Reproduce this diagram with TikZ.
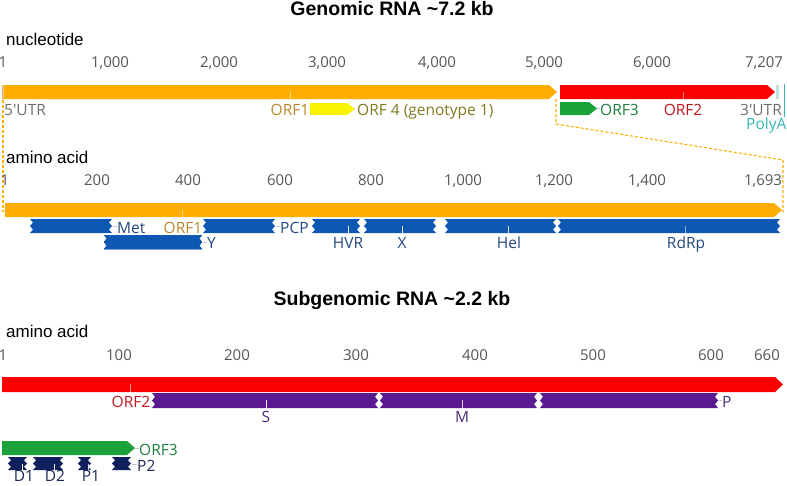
\documentclass[tikz,border=0pt]{standalone}
\usepackage{fontspec}
\setmainfont{Open Sans}[Ligatures=TeXOff]
\newfontfamily\headfont{Liberation Sans}
\usetikzlibrary{positioning}
\definecolor{AOrange}{HTML}{FFAE00}
\definecolor{ARed}{HTML}{FC0000}
\definecolor{AYellow}{HTML}{F8F400}
\definecolor{AGreen}{HTML}{1BA23B}
\definecolor{ABlue}{HTML}{0E58B4}
\definecolor{APurple}{HTML}{5A1A90}
\definecolor{ANavy}{HTML}{10205C}
\definecolor{TickGray}{HTML}{555555}
\definecolor{UtrGray}{HTML}{6E6E6E}
\definecolor{OrfOne}{HTML}{B8862B}
\definecolor{OrfFour}{HTML}{7E7A1E}
\definecolor{OrfThree}{HTML}{1E7E40}
\definecolor{OrfTwo}{HTML}{C0161E}
\definecolor{DomBlue}{HTML}{24487E}
\definecolor{DomPurple}{HTML}{4B2B7F}
\definecolor{DomNavy}{HTML}{1B2A5A}
\definecolor{PolyTeal}{HTML}{37B6B6}
\newcommand\ticksize{\fontsize{15}{18}\selectfont}
\newcommand\lblsize{\fontsize{15.5}{18}\selectfont}
% ORF arrow: colour, x1, x2, top, bottom
\newcommand\orfbar[5]{%
  \fill[#1] (#2,#4) -- ({#3-8},#4) -- (#3,{(#4+#5)/2}) -- ({#3-8},#5) -- (#2,#5) -- cycle;}
% Domain with torn ends: colour, x1, x2, top, bottom
\newcommand\dombar[5]{%
  \fill[#1] (#2,#4) -- (#3,#4) -- ({#3-3},{#4+(#5-#4)/4}) -- (#3,{(#4+#5)/2})
    -- ({#3-3},{#4+3*(#5-#4)/4}) -- (#3,#5) -- (#2,#5) -- ({#2+3},{#4+3*(#5-#4)/4})
    -- (#2,{(#4+#5)/2}) -- ({#2+3},{#4+(#5-#4)/4}) -- cycle;}
\tikzset{
  % Section title
  title/.style={font=\headfont\bfseries\fontsize{19.5}{22}\selectfont, anchor=base, inner sep=0pt},
  % Axis name
  axname/.style={font=\headfont\fontsize{17}{20}\selectfont, anchor=base west, inner sep=0pt},
  % Scale numbers
  tick/.style={font=\ticksize, text=TickGray, anchor=base, inner sep=0pt},
  % Feature label
  lab/.style={font=\lblsize, text=#1, anchor=base, inner sep=0pt},
  labw/.style={lab=#1, anchor=base west},
  % Light mark inside a bar
  barmark/.style={draw=white, opacity=0.55, line width=0.8pt},
  % Leader between feature and label
  lead/.style={draw=gray!45, line width=0.7pt},
  % Zoom outline
  zoomline/.style={draw=AOrange, dashed, dash pattern=on 3pt off 2pt, line width=1.1pt}
}
\begin{document}
\begin{tikzpicture}[x=1pt,y=-1pt]
  \useasboundingbox (0,0) rectangle (787,485);

  % ---------- Genomic RNA ----------
  \node[title] (gtitle) at (392,15) {Genomic RNA \textasciitilde7.2 kb};
  \node[axname] (ntname) at (6,45) {nucleotide};
  \foreach \x/\t in {3/1, 110/{1,000}, 219/{2,000}, 327/{3,000}, 437/{4,000},
                     544/{5,000}, 652/{6,000}, 764/{7,207}}
    \node[tick] (nt\x) at (\x,67) {\t};

  \orfbar{AOrange}{2}{557}{85}{99}
  \orfbar{ARed}{560}{775}{85}{99}
  \fill[PolyTeal!35] (776,85) rectangle (779,99);
  \draw[PolyTeal, line width=0.8pt] (784,84) -- (784,117);
  \draw[gray!40, line width=0.8pt] (3,85) -- (3,99);
  \draw[barmark] (290,91) -- (290,99);
  \draw[barmark] (683,92) -- (683,99);
  \orfbar{AYellow}{310}{355}{103}{115}
  \orfbar{AGreen}{560}{597}{102}{115}

  \node[labw=UtrGray] (utr5) at (4,115) {5'UTR};
  \node[lab=OrfOne] (orf1g) at (290,115) {ORF1};
  \node[labw=OrfFour] (orf4) at (357,115) {ORF 4 (genotype 1)};
  \node[labw=OrfThree] (orf3g) at (600,115) {ORF3};
  \node[lab=OrfTwo] (orf2g) at (683,115) {ORF2};
  \node[lab=UtrGray] (utr3) at (761,115) {3'UTR};
  \node[labw=PolyTeal] (polya) at (746,129) {PolyA};

  % zoom from ORF1 to the amino acid scale
  \coordinate (zl0) at (3,100);
  \coordinate (zl1) at (3,212);
  \coordinate (zr0) at (556,99);
  \coordinate (zr1) at (556,124);
  \coordinate (zr2) at (783,160);
  \coordinate (zr3) at (783,212);
  \draw[zoomline] (zl0) -- (zl1);
  \draw[zoomline] (zr0) -- (zr1) -- (zr2) -- (zr3);

  \node[axname] (aaname) at (6,163) {amino acid};
  \foreach \x/\t in {5/1, 97/200, 188/400, 280/600, 371/800, 463/{1,000},
                     554/{1,200}, 647/{1,400}, 763/{1,693}}
    \node[tick] (aa\x) at (\x,185) {\t};

  \orfbar{AOrange}{5}{782}{203}{217}
  \draw[barmark] (182,210) -- (182,217);
  \foreach \a/\b in {30/112, 203/275, 312/360, 364/436, 445/556, 558/780}
    \dombar{ABlue}{\a}{\b}{219}{233}
  \dombar{ABlue}{104}{202}{235}{249}
  \foreach \x in {348, 402, 508, 685}
    \draw[barmark] (\x,226) -- (\x,235);

  \node[labw=DomBlue] (met) at (117,233) {Met};
  \node[lab=OrfOne] (orf1a) at (183,233) {ORF1};
  \node[labw=DomBlue] (pcp) at (280,233) {PCP};
  \node[labw=DomBlue] (ydom) at (207,248) {Y};
  \node[lab=DomBlue] (hvr) at (348,248) {HVR};
  \node[lab=DomBlue] (xdom) at (402,248) {X};
  \node[lab=DomBlue] (hel) at (509,248) {Hel};
  \node[lab=DomBlue] (rdrp) at (686,248) {RdRp};
  \coordinate (metend) at (113,226);
  \coordinate (pcpend) at (276,226);
  \coordinate (yend) at (203,242);
  \draw[lead] (metend) -- (met.west |- metend);
  \draw[lead] (pcpend) -- (pcp.west |- pcpend);
  \draw[lead] (yend) -- (ydom.west |- yend);

  % ---------- Subgenomic RNA ----------
  \node[title] (stitle) at (392,305) {Subgenomic RNA \textasciitilde2.2 kb};
  \node[axname] (saname) at (6,337) {amino acid};
  \foreach \x/\t in {3/1, 119/100, 237/200, 356/300, 475/400, 593/500,
                     711/600, 767/660}
    \node[tick] (sa\x) at (\x,360) {\t};

  \orfbar{ARed}{2}{783}{377}{392}
  \draw[barmark] (130,384) -- (130,393);
  \foreach \a/\b in {152/378, 380/537, 540/718}
    \dombar{APurple}{\a}{\b}{393}{408}
  \foreach \x in {266, 462}
    \draw[barmark] (\x,400) -- (\x,410);

  \node[lab=OrfTwo] (orf2s) at (131,407) {ORF2};
  \node[lab=DomPurple] (sdom) at (266,422) {S};
  \node[lab=DomPurple] (mdom) at (462,422) {M};
  \node[labw=DomPurple] (pdom) at (722,407) {P};
  \coordinate (pend) at (719,400);
  \draw[lead] (pend) -- (pdom.west |- pend);

  \orfbar{AGreen}{2}{135}{441}{455}
  \foreach \a/\b in {8/27, 33/63, 78/91, 112/131}
    \dombar{ANavy}{\a}{\b}{457}{470}
  \foreach \x in {22, 54, 88}
    \draw[barmark] (\x,464) -- (\x,472);

  \node[labw=OrfThree] (orf3s) at (139,455) {ORF3};
  \node[labw=DomNavy] (ptwo) at (137,471) {P2};
  \node[lab=DomNavy] (done) at (24,481) {D1};
  \node[lab=DomNavy] (dtwo) at (55,481) {D2};
  \node[lab=DomNavy] (pone) at (91,481) {P1};
  \coordinate (orf3end) at (135,448);
  \coordinate (p2end) at (132,464);
  \draw[lead] (orf3end) -- (orf3s.west |- orf3end);
  \draw[lead] (p2end) -- (ptwo.west |- p2end);
  \coordinate (orf3gend) at (597,108);
  \draw[lead] (orf3gend) -- (orf3g.west |- orf3gend);

\end{tikzpicture}
\end{document}
